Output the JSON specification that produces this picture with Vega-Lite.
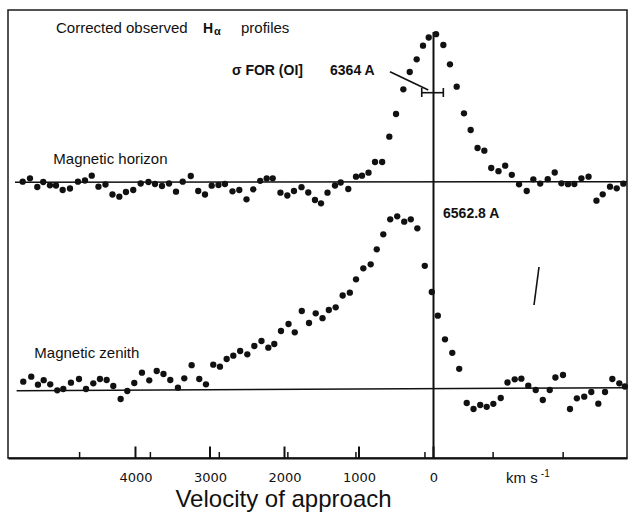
{
  "$schema": "https://vega.github.io/schema/vega-lite/v6.json",
  "width": 619,
  "height": 448,
  "autosize": "none",
  "padding": {"left": 8, "top": 10, "right": 2, "bottom": 58},
  "background": "white",
  "config": {"view": {"stroke": "#1a1a1a", "strokeWidth": 1.5}},
  "datasets": {
    "points": [
      {"series":"horizon","v":5514,"i":27.63},{"series":"horizon","v":5416,"i":27.97},{"series":"horizon","v":5318,"i":27.10},{"series":"horizon","v":5238,"i":27.60},
      {"series":"horizon","v":5148,"i":27.27},{"series":"horizon","v":5067,"i":27.25},{"series":"horizon","v":4977,"i":26.80},{"series":"horizon","v":4879,"i":26.95},
      {"series":"horizon","v":4772,"i":27.63},{"series":"horizon","v":4678,"i":27.75},{"series":"horizon","v":4587,"i":28.23},{"series":"horizon","v":4497,"i":27.13},
      {"series":"horizon","v":4403,"i":27.35},{"series":"horizon","v":4309,"i":26.35},{"series":"horizon","v":4217,"i":26.13},{"series":"horizon","v":4128,"i":26.60},
      {"series":"horizon","v":4030,"i":26.80},{"series":"horizon","v":3930,"i":27.45},{"series":"horizon","v":3826,"i":27.60},{"series":"horizon","v":3738,"i":27.40},
      {"series":"horizon","v":3644,"i":27.20},{"series":"horizon","v":3550,"i":27.45},{"series":"horizon","v":3456,"i":26.63},{"series":"horizon","v":3366,"i":27.63},
      {"series":"horizon","v":3258,"i":28.20},{"series":"horizon","v":3158,"i":26.70},{"series":"horizon","v":3067,"i":26.35},{"series":"horizon","v":2977,"i":27.23},
      {"series":"horizon","v":2886,"i":27.30},{"series":"horizon","v":2799,"i":27.40},{"series":"horizon","v":2698,"i":26.67},{"series":"horizon","v":2607,"i":26.80},
      {"series":"horizon","v":2510,"i":25.87},{"series":"horizon","v":2419,"i":26.87},{"series":"horizon","v":2326,"i":27.72},{"series":"horizon","v":2239,"i":27.95},
      {"series":"horizon","v":2158,"i":27.97},{"series":"horizon","v":2054,"i":26.53},{"series":"horizon","v":1962,"i":26.25},{"series":"horizon","v":1873,"i":26.70},
      {"series":"horizon","v":1772,"i":27.08},{"series":"horizon","v":1681,"i":26.55},{"series":"horizon","v":1591,"i":25.80},{"series":"horizon","v":1510,"i":25.47},
      {"series":"horizon","v":1423,"i":26.53},{"series":"horizon","v":1322,"i":27.25},{"series":"horizon","v":1246,"i":27.55},{"series":"horizon","v":1144,"i":26.90},
      {"series":"horizon","v":1040,"i":28.13},{"series":"horizon","v":960,"i":28.23},{"series":"horizon","v":872,"i":28.53},{"series":"horizon","v":785,"i":29.60},
      {"series":"horizon","v":689,"i":29.60},{"series":"horizon","v":593,"i":32.13},{"series":"horizon","v":503,"i":34.40},{"series":"horizon","v":405,"i":36.87},
      {"series":"horizon","v":319,"i":38.60},{"series":"horizon","v":226,"i":39.87},{"series":"horizon","v":141,"i":41.23},{"series":"horizon","v":64,"i":42.05},
      {"series":"horizon","v":-34,"i":42.38},{"series":"horizon","v":-132,"i":41.30},{"series":"horizon","v":-221,"i":39.37},{"series":"horizon","v":-311,"i":37.13},
      {"series":"horizon","v":-409,"i":34.47},{"series":"horizon","v":-499,"i":32.80},{"series":"horizon","v":-591,"i":31.00},{"series":"horizon","v":-682,"i":30.73},
      {"series":"horizon","v":-775,"i":29.00},{"series":"horizon","v":-872,"i":28.68},{"series":"horizon","v":-962,"i":29.23},{"series":"horizon","v":-1051,"i":28.32},
      {"series":"horizon","v":-1148,"i":27.37},{"series":"horizon","v":-1251,"i":26.70},{"series":"horizon","v":-1340,"i":27.87},{"series":"horizon","v":-1432,"i":27.44},
      {"series":"horizon","v":-1533,"i":27.88},{"series":"horizon","v":-1627,"i":28.55},{"series":"horizon","v":-1717,"i":27.47},{"series":"horizon","v":-1805,"i":27.38},
      {"series":"horizon","v":-1890,"i":27.40},{"series":"horizon","v":-1985,"i":27.97},{"series":"horizon","v":-2081,"i":28.13},{"series":"horizon","v":-2187,"i":25.73},
      {"series":"horizon","v":-2271,"i":26.37},{"series":"horizon","v":-2369,"i":27.13},{"series":"horizon","v":-2459,"i":26.97},{"series":"horizon","v":-2548,"i":27.43},
      {"series":"zenith","v":5506,"i":7.63},{"series":"zenith","v":5399,"i":8.13},{"series":"zenith","v":5309,"i":7.33},{"series":"zenith","v":5232,"i":7.78},
      {"series":"zenith","v":5144,"i":7.37},{"series":"zenith","v":5050,"i":6.77},{"series":"zenith","v":4969,"i":6.90},{"series":"zenith","v":4866,"i":7.53},
      {"series":"zenith","v":4758,"i":7.90},{"series":"zenith","v":4664,"i":6.90},{"series":"zenith","v":4566,"i":7.47},{"series":"zenith","v":4477,"i":7.90},
      {"series":"zenith","v":4387,"i":7.80},{"series":"zenith","v":4298,"i":7.20},{"series":"zenith","v":4199,"i":5.90},{"series":"zenith","v":4110,"i":6.70},
      {"series":"zenith","v":4016,"i":7.50},{"series":"zenith","v":3913,"i":8.53},{"series":"zenith","v":3815,"i":7.77},{"series":"zenith","v":3715,"i":8.70},
      {"series":"zenith","v":3624,"i":8.40},{"series":"zenith","v":3533,"i":7.80},{"series":"zenith","v":3430,"i":7.03},{"series":"zenith","v":3345,"i":7.97},
      {"series":"zenith","v":3246,"i":9.28},{"series":"zenith","v":3144,"i":7.90},{"series":"zenith","v":3054,"i":7.37},{"series":"zenith","v":2956,"i":9.33},
      {"series":"zenith","v":2866,"i":9.13},{"series":"zenith","v":2776,"i":9.90},{"series":"zenith","v":2687,"i":10.23},{"series":"zenith","v":2595,"i":10.70},
      {"series":"zenith","v":2499,"i":10.37},{"series":"zenith","v":2405,"i":11.20},{"series":"zenith","v":2309,"i":11.70},{"series":"zenith","v":2217,"i":11.03},
      {"series":"zenith","v":2137,"i":11.40},{"series":"zenith","v":2047,"i":12.70},{"series":"zenith","v":1946,"i":13.40},{"series":"zenith","v":1862,"i":12.57},
      {"series":"zenith","v":1768,"i":14.70},{"series":"zenith","v":1671,"i":13.50},{"series":"zenith","v":1581,"i":14.47},{"series":"zenith","v":1490,"i":13.98},
      {"series":"zenith","v":1405,"i":14.80},{"series":"zenith","v":1313,"i":15.07},{"series":"zenith","v":1219,"i":16.25},{"series":"zenith","v":1123,"i":16.53},
      {"series":"zenith","v":1040,"i":17.87},{"series":"zenith","v":942,"i":18.97},{"series":"zenith","v":843,"i":19.37},{"series":"zenith","v":762,"i":20.87},
      {"series":"zenith","v":674,"i":22.37},{"series":"zenith","v":581,"i":23.87},{"series":"zenith","v":487,"i":24.17},{"series":"zenith","v":393,"i":23.63},
      {"series":"zenith","v":305,"i":23.87},{"series":"zenith","v":217,"i":22.97},{"series":"zenith","v":117,"i":19.22},{"series":"zenith","v":23,"i":16.60},
      {"series":"zenith","v":-58,"i":14.23},{"series":"zenith","v":-154,"i":11.87},{"series":"zenith","v":-252,"i":10.52},{"series":"zenith","v":-345,"i":8.92},
      {"series":"zenith","v":-446,"i":5.50},{"series":"zenith","v":-537,"i":4.90},{"series":"zenith","v":-627,"i":5.30},{"series":"zenith","v":-714,"i":5.12},
      {"series":"zenith","v":-803,"i":5.42},{"series":"zenith","v":-902,"i":6.00},{"series":"zenith","v":-993,"i":7.55},{"series":"zenith","v":-1090,"i":7.87},
      {"series":"zenith","v":-1179,"i":7.93},{"series":"zenith","v":-1272,"i":7.23},{"series":"zenith","v":-1372,"i":6.80},{"series":"zenith","v":-1467,"i":5.80},
      {"series":"zenith","v":-1560,"i":6.80},{"series":"zenith","v":-1636,"i":8.05},{"series":"zenith","v":-1738,"i":8.30},{"series":"zenith","v":-1832,"i":4.90},
      {"series":"zenith","v":-1924,"i":5.97},{"series":"zenith","v":-2023,"i":6.13},{"series":"zenith","v":-2118,"i":6.60},{"series":"zenith","v":-2212,"i":5.43},
      {"series":"zenith","v":-2302,"i":6.60},{"series":"zenith","v":-2400,"i":7.90},{"series":"zenith","v":-2494,"i":7.47},{"series":"zenith","v":-2568,"i":7.15}
    ],
    "baselines": [
      {"line":"horizon","v":5617,"i":27.58},{"line":"horizon","v":-2597,"i":27.63},
      {"line":"zenith","v":5595,"i":6.73},{"line":"zenith","v":-2597,"i":7.03}
    ],
    "zeroline": [{"v":0,"i":0,"v2":0,"i2":42.6}],
    "segments": [
      {"part":"errorbar","v":158,"i":36.53,"v2":-132,"i2":36.53},
      {"part":"cap1","v":158,"i":36.1,"v2":158,"i2":37.0},
      {"part":"cap2","v":-132,"i":36.1,"v2":-132,"i2":37.0},
      {"part":"leader","v":584,"i":38.63,"v2":70,"i2":36.8},
      {"part":"stray","v":-1416,"i":19.1,"v2":-1349,"i2":15.3}
    ],
    "majorticks": [{"v":0,"i":0,"i2":1.15},{"v":1000,"i":0,"i2":1.15},{"v":2000,"i":0,"i2":1.15},{"v":3000,"i":0,"i2":1.15},{"v":4000,"i":0,"i2":1.15}],
    "minorticks": [{"v":4750,"i":0,"i2":0.6},{"v":3800,"i":0,"i2":0.6},{"v":2875,"i":0,"i2":0.6},{"v":1955,"i":0,"i2":0.6},{"v":1041,"i":0,"i2":0.6},{"v":115,"i":0,"i2":0.6},{"v":-800,"i":0,"i2":0.6},{"v":-1740,"i":0,"i2":0.6}],
    "plainlabels": [
      {"label":"Corrected observed","v":5067,"i":42.5},
      {"label":"profiles","v":2584,"i":42.5},
      {"label":"Magnetic horizon","v":5103,"i":29.4},
      {"label":"Magnetic zenith","v":5358,"i":10.05},
      {"label":"km s","v":-973,"i":-2.5}
    ],
    "superscript": [{"label":"-1","v":-1440,"i":-1.9}],
    "boldlabels": [
      {"label":"H","v":3094,"i":42.5},
      {"label":"σ  FOR  (OI]","v":2705,"i":38.3},
      {"label":"6364 A","v":1389,"i":38.3},
      {"label":"6562.8 A","v":-128,"i":24.0}
    ],
    "alpha": [{"label":"α","v":2946,"i":42.3}]
  },
  "encoding": {
    "x": {
      "field": "v", "type": "quantitative",
      "scale": {"domain": [-2597, 5711], "reverse": true, "nice": false, "zero": false},
      "axis": {
        "values": [0, 1000, 2000, 3000, 4000],
        "format": "d",
        "grid": false, "ticks": false, "tickSize": 0,
        "domainColor": "#111", "domainWidth": 2,
        "labelFont": "DejaVu Sans", "labelFontSize": 13, "labelColor": "#111",
        "labelBaseline": "alphabetic", "labelPadding": 23, "labelFlush": false, "labelOverlap": false,
        "title": "Velocity of approach",
        "titleFont": "Liberation Sans", "titleFontSize": 24, "titleFontWeight": "normal", "titleColor": "#111",
        "titleX": 275, "titleY": 48, "titleAlign": "center", "titleBaseline": "alphabetic"
      }
    },
    "y": {
      "field": "i", "type": "quantitative",
      "scale": {"domain": [0, 44.8], "nice": false, "zero": false},
      "axis": null
    }
  },
  "layer": [
    {
      "data": {"name": "baselines"},
      "mark": {"type": "line", "color": "#111", "strokeWidth": 1.6},
      "encoding": {"detail": {"field": "line", "type": "nominal"}}
    },
    {
      "data": {"name": "zeroline"},
      "mark": {"type": "rule", "color": "#111", "strokeWidth": 2},
      "encoding": {"x2": {"field": "v2"}, "y2": {"field": "i2"}}
    },
    {
      "data": {"name": "segments"},
      "mark": {"type": "rule", "color": "#111", "strokeWidth": 1.6},
      "encoding": {"x2": {"field": "v2"}, "y2": {"field": "i2"}}
    },
    {
      "data": {"name": "majorticks"},
      "mark": {"type": "rule", "color": "#111", "strokeWidth": 2},
      "encoding": {"y2": {"field": "i2"}}
    },
    {
      "data": {"name": "minorticks"},
      "mark": {"type": "rule", "color": "#111", "strokeWidth": 1.5},
      "encoding": {"y2": {"field": "i2"}}
    },
    {
      "data": {"name": "points"},
      "mark": {"type": "circle", "color": "#111", "size": 40, "opacity": 1}
    },
    {
      "data": {"name": "plainlabels"},
      "mark": {"type": "text", "font": "Liberation Sans", "fontSize": 15, "color": "#111", "align": "left", "baseline": "alphabetic"},
      "encoding": {"text": {"field": "label"}}
    },
    {
      "data": {"name": "superscript"},
      "mark": {"type": "text", "font": "Liberation Sans", "fontSize": 10, "color": "#111", "align": "left", "baseline": "alphabetic"},
      "encoding": {"text": {"field": "label"}}
    },
    {
      "data": {"name": "boldlabels"},
      "mark": {"type": "text", "font": "Liberation Sans", "fontSize": 14, "fontWeight": "bold", "color": "#111", "align": "left", "baseline": "alphabetic"},
      "encoding": {"text": {"field": "label"}}
    },
    {
      "data": {"name": "alpha"},
      "mark": {"type": "text", "font": "Liberation Sans", "fontSize": 11, "fontWeight": "bold", "color": "#111", "align": "left", "baseline": "alphabetic"},
      "encoding": {"text": {"field": "label"}}
    }
  ]
}
